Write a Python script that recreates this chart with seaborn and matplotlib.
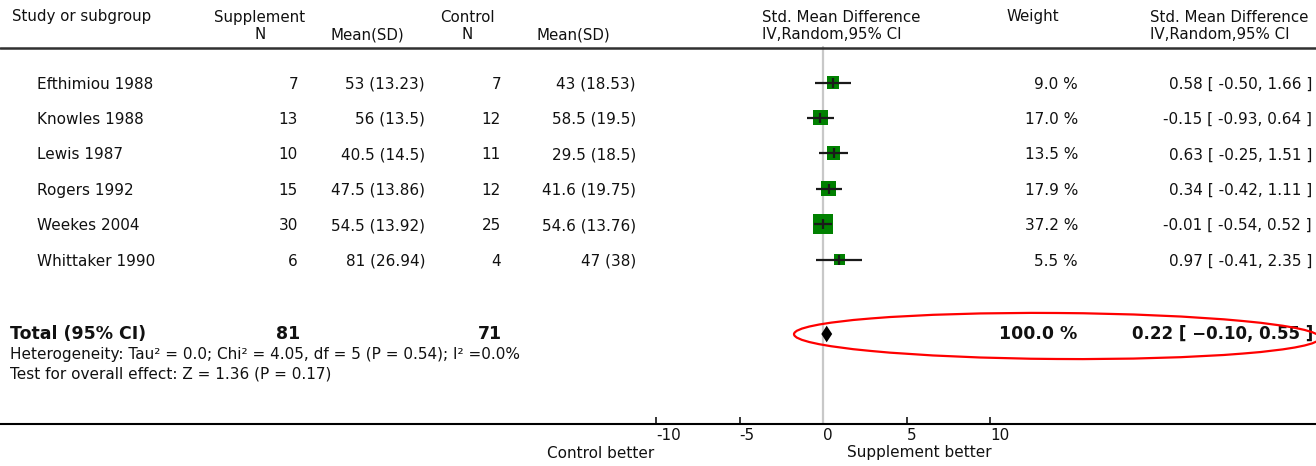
import matplotlib
matplotlib.use("Agg")
import matplotlib.pyplot as plt
import matplotlib.transforms as mtransforms
from matplotlib.patches import Ellipse
from matplotlib.lines import Line2D
import numpy as np
import pandas as pd
import seaborn as sns

# ---------------- data ----------------
studies = ["Efthimiou 1988", "Knowles 1988", "Lewis 1987", "Rogers 1992",
           "Weekes 2004", "Whittaker 1990"]
supp_n = [7, 13, 10, 15, 30, 6]
supp_mean = [53, 56, 40.5, 47.5, 54.5, 81]
supp_sd = [13.23, 13.5, 14.5, 13.86, 13.92, 26.94]
ctrl_n = [7, 12, 11, 12, 25, 4]
ctrl_mean = [43, 58.5, 29.5, 41.6, 54.6, 47]
ctrl_sd = [18.53, 19.5, 18.5, 19.75, 13.76, 38]
weights = [9.0, 17.0, 13.5, 17.9, 37.2, 5.5]
smd = [0.58, -0.15, 0.63, 0.34, -0.01, 0.97]
ci_low = [-0.50, -0.93, -0.25, -0.42, -0.54, -0.41]
ci_high = [1.66, 0.64, 1.51, 1.11, 0.52, 2.35]

total_supp_n = 81
total_ctrl_n = 71
total_weight = 100.0
total_smd = 0.22
total_low = -0.10
total_high = 0.55

heterogeneity = "Heterogeneity: Tau² = 0.0; Chi² = 4.05, df = 5 (P = 0.54); I² =0.0%"
overall_test = "Test for overall effect: Z = 1.36 (P = 0.17)"
x_ticks = [-10, -5, 0, 5, 10]
left_label = "Control better"
right_label = "Supplement better"

# ---------------- layout ----------------
W, H = 1316, 466
sns.set_theme(style="white")
plt.rcParams["font.family"] = ["DejaVu Sans"]

fig = plt.figure(figsize=(W / 100, H / 100), dpi=100)
fig.patch.set_facecolor("white")

axis_px = 424          # y pixel of the x-axis line
ax = fig.add_axes([0, (H - axis_px) / H, 1, axis_px / H])
ax.set_facecolor("none")

zero_px, unit_px = 823, 16.7
row0_px, row_step = 82.5, 35.4

df = pd.DataFrame({
    "study": studies, "smd": smd, "lo": ci_low, "hi": ci_high,
    "weight": weights, "row": np.arange(len(studies), dtype=float),
})

total_row = (334 - row0_px) / row_step

# null line
ax.axvline(0, ymin=0, ymax=(axis_px - 47) / axis_px, color="#c8c8c8", lw=1.6, zorder=1)

# study squares
sns.scatterplot(data=df, x="smd", y="row", size="weight", sizes=(60, 215),
                size_norm=(min(weights), max(weights)), marker="s",
                color="#008000", linewidth=0, legend=False, ax=ax, zorder=3)
# CI lines and estimate ticks
ax.hlines(df["row"], df["lo"], df["hi"], color="#1a1a1a", lw=1.6, zorder=4)
ax.scatter(df["smd"], df["row"], marker="|", s=60, color="#1a1a1a",
           linewidths=1.6, zorder=5)

# total diamond
dh = 8.3 / row_step
ax.fill([total_low, total_smd, total_high, total_smd],
        [total_row, total_row - dh, total_row, total_row + dh],
        color="black", lw=0, zorder=4)

ax.set_xlim(-zero_px / unit_px, (W - zero_px) / unit_px)
ax.set_ylim((axis_px - row0_px) / row_step, -row0_px / row_step)

for s in ["top", "left", "right"]:
    ax.spines[s].set_visible(False)
ax.spines["bottom"].set_color("black")
ax.spines["bottom"].set_linewidth(1.5)
ax.set_xticks(x_ticks)
ax.set_xticklabels([str(t) for t in x_ticks])
ax.tick_params(axis="x", direction="in", length=5, width=1.1, color="black",
               pad=3, labelsize=11, labelcolor="#111111", bottom=True)
for lab in ax.get_xticklabels():
    lab.set_ha("left")
ax.set_yticks([])
ax.set_xlabel("")
ax.set_ylabel("")
ax.grid(False)

# ---------------- text table ----------------
def ptext(xpx, ypx, s, **kw):
    kw.setdefault("fontsize", 11)
    kw.setdefault("color", "#111111")
    kw.setdefault("va", "center")
    fig.text(xpx / W, 1 - ypx / H, s, **kw)

blend = mtransforms.blended_transform_factory(ax.transAxes, ax.transData)

def rtext(xpx, row, s, **kw):
    kw.setdefault("fontsize", 11)
    kw.setdefault("color", "#111111")
    kw.setdefault("va", "center")
    ax.text(xpx / W, row, s, transform=blend, clip_on=False, **kw)

# headers
hs = 10.8
ptext(12, 16, "Study or subgroup", fontsize=hs)
ptext(260, 26, "Supplement\nN", fontsize=hs, ha="center", linespacing=1.2)
ptext(330, 35, "Mean(SD)", fontsize=hs)
ptext(467, 26, "Control\nN", fontsize=hs, ha="center", linespacing=1.2)
ptext(537, 35, "Mean(SD)", fontsize=hs)
ptext(762, 26, "Std. Mean Difference\nIV,Random,95% CI", fontsize=hs, linespacing=1.2)
ptext(1033, 16, "Weight", fontsize=hs, ha="center")
ptext(1150, 26, "Std. Mean Difference\nIV,Random,95% CI", fontsize=hs, linespacing=1.2)

fig.add_artist(Line2D([0, 1], [1 - 47.7 / H] * 2, transform=fig.transFigure,
                      color="#303030", lw=1.8))

# rows
for i, r in df.iterrows():
    y = r["row"] + 1.5 / row_step
    rtext(37, y, r["study"])
    rtext(298, y, f"{supp_n[i]}", ha="right")
    rtext(425, y, f"{supp_mean[i]:g} ({supp_sd[i]:g})", ha="right")
    rtext(501, y, f"{ctrl_n[i]}", ha="right")
    rtext(636, y, f"{ctrl_mean[i]:g} ({ctrl_sd[i]:g})", ha="right")
    rtext(1078, y, f"{weights[i]:.1f} %", ha="right")
    rtext(1312, y, f"{smd[i]:.2f} [ {ci_low[i]:.2f}, {ci_high[i]:.2f} ]", ha="right")

# totals
rtext(10, total_row, "Total (95% CI)", fontsize=12.5, fontweight="bold")
rtext(288, total_row, f"{total_supp_n}", fontsize=12.5, fontweight="bold", ha="center")
rtext(490, total_row, f"{total_ctrl_n}", fontsize=12.5, fontweight="bold", ha="center")
rtext(1077, total_row, f"{total_weight:.1f} %", fontsize=12.5, fontweight="bold", ha="right")
tot = f"{total_smd:.2f} [ {total_low:.2f}, {total_high:.2f} ]".replace("-", "\u2212")
rtext(1313, total_row, tot, fontsize=12, fontweight="bold", ha="right")

ptext(10, 355, heterogeneity, fontsize=11)
ptext(10, 374, overall_test, fontsize=11)

# red highlight ellipse
fig.add_artist(Ellipse((1057, H - 336), 526, 46, angle=-0.4,
                       transform=mtransforms.IdentityTransform(),
                       fill=False, edgecolor="red", lw=1.6))

# bottom direction labels
ptext(654, 453, left_label, ha="right", fontsize=11)
ptext(992, 453, right_label, ha="right", fontsize=11)

fig.savefig("out.png", dpi=100)
